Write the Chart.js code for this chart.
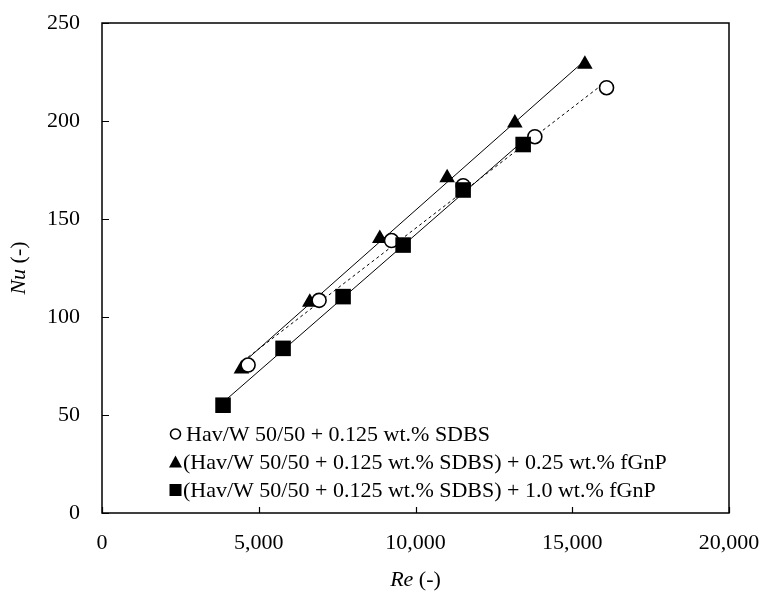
<!DOCTYPE html>
<html>
<head>
<meta charset="utf-8">
<script src="https://cdn.jsdelivr.net/npm/chart.js@4/dist/chart.umd.min.js"></script>
<style>
  html, body { margin: 0; padding: 0; background: #ffffff; }
  #wrap { width: 772px; height: 601px; }
</style>
</head>
<body>
<div id="wrap"><canvas id="c" width="772" height="601"></canvas></div>
<script>
// ---- Data ----
const seriesLabels = [
  'Hav/W 50/50 + 0.125 wt.% SDBS',
  '(Hav/W 50/50 + 0.125 wt.% SDBS) + 0.25 wt.% fGnP',
  '(Hav/W 50/50 + 0.125 wt.% SDBS) + 1.0 wt.% fGnP'
];
const reSDBS = [4660, 6925, 9234, 11519, 13807, 16094];
const nuSDBS = [75.5, 108.5, 139, 167, 192, 217];
const reF025 = [4447, 6628, 8861, 11009, 13169, 15402];
const nuF025 = [73.5, 107.5, 140, 171, 199, 229];
const reF100 = [3861, 5776, 7690, 9605, 11519, 13434];
const nuF100 = [55, 84, 110.4, 136.7, 164.8, 188];
const xTicks = [0, 5000, 10000, 15000, 20000];
const yTicks = [0, 50, 100, 150, 200, 250];
const xTitle = ['Re', ' (-)'];
const yTitle = ['Nu', ' (-)'];

const FONT = "'Liberation Serif', 'Times New Roman', serif";

function pts(xs, ys) { return xs.map((x, i) => ({ x: x, y: ys[i] })); }
function trend(xs, ys) {
  const n = xs.length;
  const mx = xs.reduce((a, b) => a + b, 0) / n;
  const my = ys.reduce((a, b) => a + b, 0) / n;
  let sxy = 0, sxx = 0;
  for (let i = 0; i < n; i++) { sxy += (xs[i] - mx) * (ys[i] - my); sxx += (xs[i] - mx) ** 2; }
  const b = sxy / sxx, a = my - b * mx;
  const x0 = Math.min(...xs), x1 = Math.max(...xs);
  return [{ x: x0, y: a + b * x0 }, { x: x1, y: a + b * x1 }];
}

const frame = {
  id: 'frame',
  afterDatasetsDraw(chart) {
    const { ctx, chartArea: ca, scales } = chart;
    ctx.save();
    ctx.strokeStyle = '#000';
    ctx.lineWidth = 1.5;
    ctx.strokeRect(ca.left, ca.top, ca.right - ca.left, ca.bottom - ca.top);
    ctx.lineWidth = 1.2;
    ctx.beginPath();
    xTicks.forEach(v => {
      const px = Math.round(scales.x.getPixelForValue(v)) + 0.5;
      ctx.moveTo(px, ca.bottom); ctx.lineTo(px, ca.bottom - 6);
    });
    yTicks.forEach(v => {
      const py = Math.round(scales.y.getPixelForValue(v)) + 0.5;
      ctx.moveTo(ca.left, py); ctx.lineTo(ca.left + 7, py);
    });
    ctx.stroke();

    // legend
    const rowsY = [434, 462, 490];
    const mx = 175.5;
    ctx.fillStyle = '#000';
    ctx.font = '22px ' + FONT;
    ctx.textBaseline = 'middle';
    ctx.textAlign = 'left';
    ctx.beginPath(); ctx.arc(mx, rowsY[0], 5, 0, Math.PI * 2);
    ctx.fillStyle = '#fff'; ctx.fill(); ctx.lineWidth = 1.6; ctx.strokeStyle = '#000'; ctx.stroke();
    ctx.fillStyle = '#000';
    ctx.beginPath();
    ctx.moveTo(mx, rowsY[1] - 6.5); ctx.lineTo(mx + 6.5, rowsY[1] + 5.5); ctx.lineTo(mx - 6.5, rowsY[1] + 5.5);
    ctx.closePath(); ctx.fill();
    ctx.fillRect(mx - 6, rowsY[2] - 6, 12, 12);
    ctx.fillText(seriesLabels[0], 186, rowsY[0] + 1);
    ctx.fillText(seriesLabels[1], 183, rowsY[1] + 1);
    ctx.fillText(seriesLabels[2], 183, rowsY[2] + 1);

    function mixed(parts, cx, cy, rot) {
      ctx.save();
      ctx.translate(cx, cy);
      if (rot) ctx.rotate(-Math.PI / 2);
      ctx.textBaseline = 'middle';
      ctx.textAlign = 'left';
      ctx.font = 'italic 22px ' + FONT;
      const w0 = ctx.measureText(parts[0]).width;
      ctx.font = '22px ' + FONT;
      const w1 = ctx.measureText(parts[1]).width;
      let x = -(w0 + w1) / 2;
      ctx.font = 'italic 22px ' + FONT;
      ctx.fillText(parts[0], x, 0);
      ctx.font = '22px ' + FONT;
      ctx.fillText(parts[1], x + w0, 0);
      ctx.restore();
    }
    mixed(xTitle, (ca.left + ca.right) / 2, 580, false);
    mixed(yTitle, 19, (ca.top + ca.bottom) / 2, true);
    ctx.restore();
  }
};

new Chart(document.getElementById('c'), {
  type: 'scatter',
  data: {
    datasets: [
      { label: seriesLabels[2], data: pts(reF100, nuF100), pointStyle: 'rect', pointRadius: 11,
        backgroundColor: '#000', borderColor: '#000', borderWidth: 0, order: 0 },
      { label: seriesLabels[0], data: pts(reSDBS, nuSDBS), pointStyle: 'circle', pointRadius: 7,
        backgroundColor: '#fff', borderColor: '#000', borderWidth: 1.6, order: 1 },
      { label: seriesLabels[1], data: pts(reF025, nuF025), pointStyle: 'triangle', pointRadius: 9,
        backgroundColor: '#000', borderColor: '#000', borderWidth: 0, order: 2 },
      { label: 'trend1', data: trend(reSDBS, nuSDBS), showLine: true, pointRadius: 0,
        borderColor: '#000', borderWidth: 1, borderDash: [3, 3], order: 3 },
      { label: 'trend2', data: trend(reF025, nuF025), showLine: true, pointRadius: 0,
        borderColor: '#000', borderWidth: 1, order: 4 },
      { label: 'trend3', data: trend(reF100, nuF100), showLine: true, pointRadius: 0,
        borderColor: '#000', borderWidth: 1, order: 5 }
    ]
  },
  options: {
    responsive: false,
    animation: false,
    layout: { padding: { top: 23, right: 43, left: 0, bottom: 0 } },
    plugins: { legend: { display: false }, tooltip: { enabled: false } },
    scales: {
      x: {
        type: 'linear', min: 0, max: 20000,
        afterBuildTicks: s => { s.ticks = xTicks.map(v => ({ value: v })); },
        afterFit: s => { s.height = 88; s.paddingLeft = 0; s.paddingRight = 0; },
        grid: { display: false, drawTicks: false },
        border: { display: false },
        ticks: {
          color: '#000', padding: 17, maxRotation: 0,
          font: { family: FONT, size: 22 },
          callback: v => v.toLocaleString('en-US')
        }
      },
      y: {
        type: 'linear', min: 0, max: 250,
        afterBuildTicks: s => { s.ticks = yTicks.map(v => ({ value: v })); },
        afterFit: s => { s.width = 102; s.paddingTop = 0; s.paddingBottom = 0; },
        grid: { display: false, drawTicks: false },
        border: { display: false },
        ticks: {
          color: '#000', padding: 22,
          font: { family: FONT, size: 22 },
          callback: v => String(v)
        }
      }
    }
  },
  plugins: [frame]
});
</script>
</body>
</html>
